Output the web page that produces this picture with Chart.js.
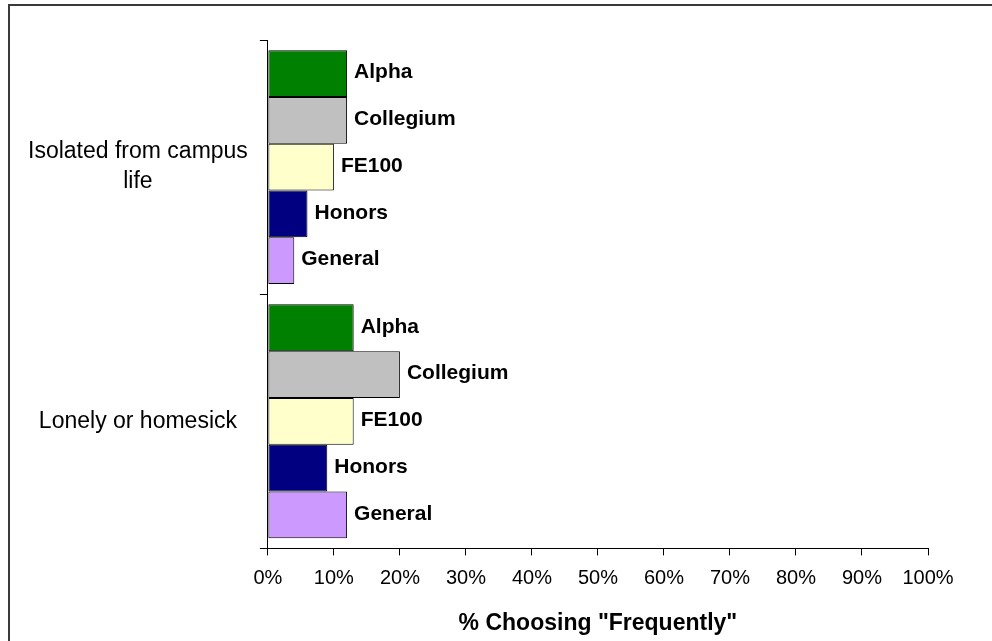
<!DOCTYPE html>
<html>
<head>
<meta charset="utf-8">
<script src="https://cdn.jsdelivr.net/npm/chart.js@4.4.1/dist/chart.umd.min.js"></script>
<style>
  body { margin: 0; background: #fff; }
  .wrap { position: relative; width: 992px; height: 641px; overflow: hidden; }
  .frame { position: absolute; left: 8px; top: 4px; width: 2000px; height: 2000px; border: 2px solid #3a3a3a; }
  .box { position: absolute; left: 0; top: 0; width: 992px; height: 641px; }
</style>
</head>
<body>
<div class="wrap">
  <div class="frame"></div>
  <div class="box"><canvas id="frequentChart"></canvas></div>
</div>
<script>
// Data
const categories = [["Isolated from campus", "life"], "Lonely or homesick"];
const seriesNames = ["Alpha", "Collegium", "FE100", "Honors", "General"];
const alpha = [12, 13];
const collegium = [12, 20];
const fe100 = [10, 13];
const honors = [6, 9];
const general = [4, 12];
const seriesColors = ["#008000", "#c0c0c0", "#ffffcc", "#000080", "#cc99ff"];

const FONT = "'Liberation Sans', Arial, sans-serif";

// draw series name to the right of each bar
const barNames = {
  id: "barNames",
  afterDatasetsDraw(chart) {
    const ctx = chart.ctx;
    ctx.save();
    ctx.font = "bold 21px " + FONT;
    ctx.fillStyle = "#000";
    ctx.textAlign = "left";
    ctx.textBaseline = "middle";
    chart.data.datasets.forEach((ds, i) => {
      chart.getDatasetMeta(i).data.forEach((bar) => {
        ctx.fillText(ds.label, bar.x + 7, bar.y - 1);
      });
    });
    ctx.restore();
  },
};

const values = [alpha, collegium, fe100, honors, general];

new Chart(document.getElementById("frequentChart"), {
  type: "bar",
  data: {
    labels: categories,
    datasets: seriesNames.map((name, i) => ({
      label: name,
      data: values[i],
      backgroundColor: seriesColors[i],
      borderColor: "#000",
      borderWidth: 1,
      borderSkipped: false,
      categoryPercentage: 0.92,
      barPercentage: 1.0,
    })),
  },
  options: {
    indexAxis: "y",
    responsive: true,
    maintainAspectRatio: false,
    animation: false,
    layout: { padding: { left: 16, top: 40, right: 64, bottom: 4 } },
    plugins: { legend: { display: false }, tooltip: { enabled: false } },
    scales: {
      x: {
        min: 0,
        max: 100,
        ticks: {
          stepSize: 10,
          color: "#000",
          padding: 11,
          font: { family: FONT, size: 20 },
          callback: (v) => v + "%",
        },
        grid: { drawOnChartArea: false, tickLength: 7, color: "#000" },
        border: { display: true, color: "#000" },
        title: {
          display: true,
          text: '% Choosing "Frequently"',
          color: "#000",
          font: { family: FONT, size: 23, weight: "bold" },
          padding: { top: 8, bottom: 0 },
        },
      },
      y: {
        ticks: {
          color: "#000",
          padding: 12,
          crossAlign: "center",
          font: { family: FONT, size: 23, lineHeight: 1.3 },
        },
        grid: { offset: true, drawOnChartArea: false, tickLength: 8, color: "#000" },
        border: { display: true, color: "#000" },
      },
    },
  },
  plugins: [barNames],
});
</script>
</body>
</html>
